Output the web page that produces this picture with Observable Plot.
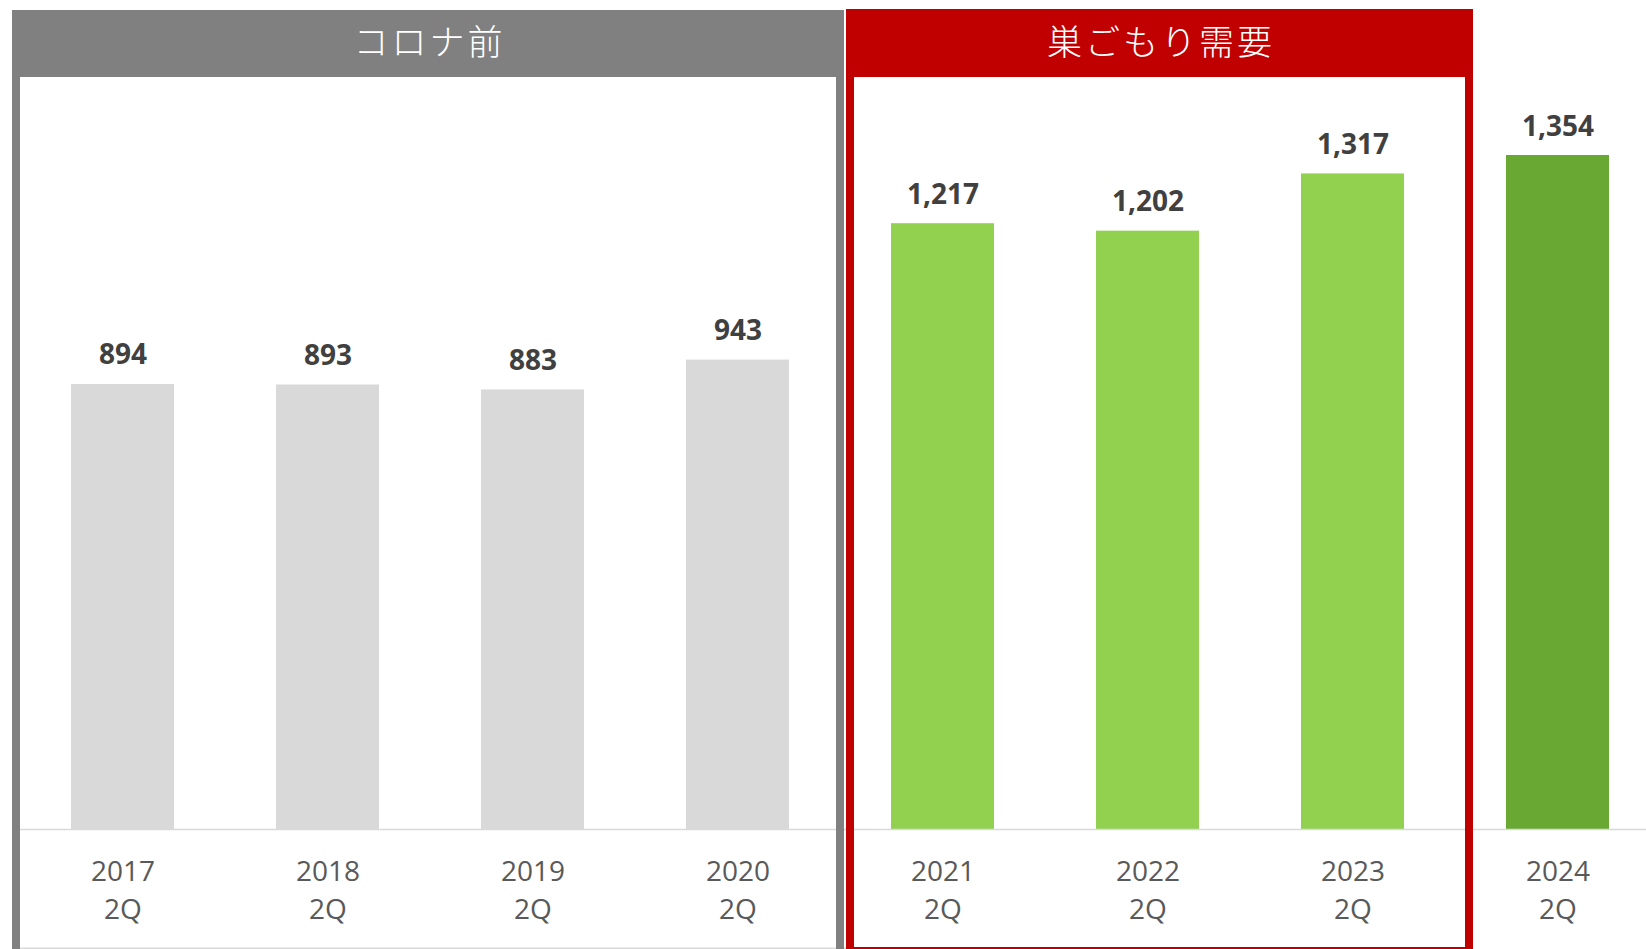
<!DOCTYPE html>
<html><head><meta charset="utf-8">
<script src="https://cdn.jsdelivr.net/npm/d3@7"></script>
<script src="https://cdn.jsdelivr.net/npm/@observablehq/plot@0.6"></script>
<style>html,body{margin:0;padding:0;background:#fff;overflow:hidden;}</style>
</head><body><div id="chart"></div>
<script>
const years = ["2017","2018","2019","2020","2021","2022","2023","2024"];
const quarters = ["2Q","2Q","2Q","2Q","2Q","2Q","2Q","2Q"];
const values = [894, 893, 883, 943, 1217, 1202, 1317, 1354];
const groups = ["pre","pre","pre","pre","nest","nest","nest","latest"];
const groupNames = ["pre","nest","latest"];
const groupColors = ["#d9d9d9","#92d050","#6aa834"];
const headerLabels = ["コロナ前","巣ごもり需要"];
const headerFirst = ["2017","2021"];
const headerLast = ["2020","2023"];

const data = years.map((y,i)=>({year:y, quarter:quarters[i], value:values[i], group:groups[i]}));

const chart = Plot.plot({
  width: 1646, height: 949,
  marginLeft: 20, marginRight: 0, marginTop: 155, marginBottom: 120,
  style: {fontFamily: "'Open Sans', sans-serif", background: "#fff", overflow: "hidden"},
  x: {type: "band", domain: years, range: [20, 1660], paddingInner: 0.5, paddingOuter: 0.25, axis: null},
  y: {domain: [0, 1354], axis: null},
  color: {type: "ordinal", domain: groupNames, range: groupColors},
  marks: [
    Plot.barY(data, {x: "year", y: "value", fill: "group"}),
    Plot.ruleY([0], {stroke: "#d9d9d9", strokeWidth: 1.5}),
    Plot.text(data, {x: "year", y: "value", text: d => d3.format(",")(d.value), lineAnchor: "bottom", dy: -20, fontSize: 28, fontWeight: "bold", fill: "#404040"}),
    Plot.text(data, {x: "year", y: 0, text: "year", dy: 51, lineAnchor: "bottom", fontSize: 28, fill: "#595959"}),
    Plot.text(data, {x: "year", y: 0, text: "quarter", dy: 89, lineAnchor: "bottom", fontSize: 28, fill: "#595959"})
  ]
});
document.getElementById("chart").appendChild(chart);

// group boxes (decoration placed from the x scale)
const svg = d3.select(chart);
const xs = chart.scale("x");
const bw = xs.bandwidth, step = xs.step;
const cx = v => xs.apply(v) + bw / 2;
const boxStyles = [
  {color: "#808080", padL: -8, padR: 4, top: 10, bottom: 975},
  {color: "#c00000", padL: 6, padR: 18, top: 9, bottom: 955}
];
const headerBottom = 77, border = 8;

svg.append("rect").attr("x", 20).attr("y", 947.5).attr("width", 1445).attr("height", 1.5).attr("fill", "#d9d9d9");

headerLabels.forEach((label, i) => {
  const st = boxStyles[i];
  const x0 = cx(headerFirst[i]) - step / 2 + st.padL;
  const x1 = cx(headerLast[i]) + step / 2 + st.padR;
  const g = svg.append("g");
  g.append("rect").attr("x", x0).attr("y", st.top).attr("width", x1 - x0).attr("height", headerBottom - st.top).attr("fill", st.color);
  g.append("rect").attr("x", x0 + border / 2).attr("y", st.top + border / 2)
    .attr("width", x1 - x0 - border).attr("height", st.bottom - st.top - border)
    .attr("fill", "none").attr("stroke", st.color).attr("stroke-width", border);
  g.append("text").attr("x", (x0 + x1) / 2 + 1.5).attr("y", 54.5)
    .attr("text-anchor", "middle").attr("fill", "#fff")
    .attr("font-family", "'Noto Sans CJK JP', sans-serif").attr("font-weight", 300)
    .attr("font-size", 35).attr("letter-spacing", 3).text(label);
});
</script>
</body></html>
